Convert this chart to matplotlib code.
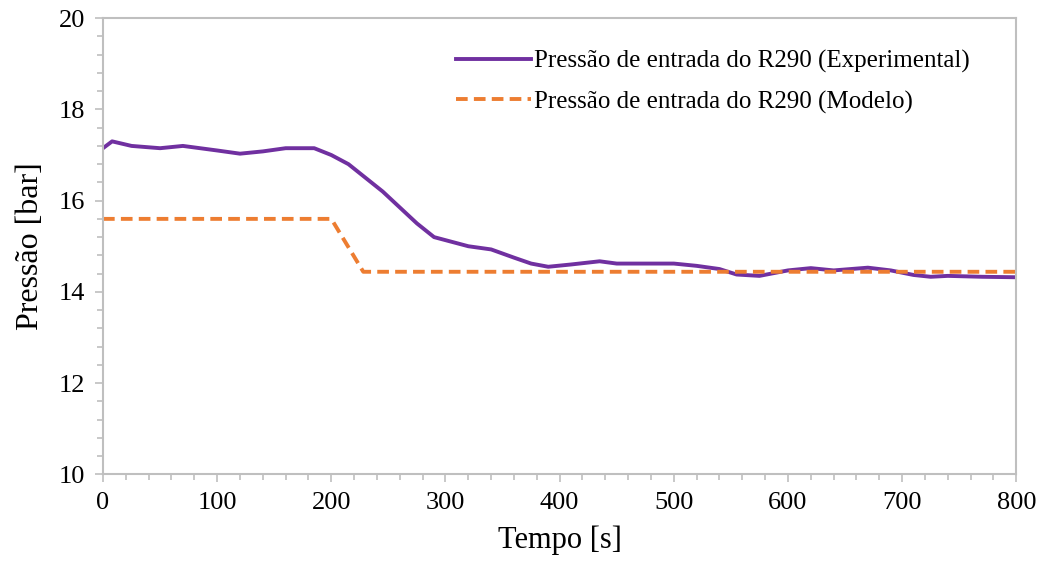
import matplotlib.pyplot as plt
from matplotlib.ticker import MultipleLocator

# dados
t_exp = [0, 8, 25, 50, 70, 100, 120, 140, 160, 185, 200, 215, 230, 245, 260, 275,
         290, 305, 320, 340, 360, 375, 390, 410, 435, 450, 500, 520, 540, 555, 575,
         600, 620, 640, 670, 690, 710, 725, 740, 770, 800]
p_exp = [17.15, 17.3, 17.2, 17.15, 17.2, 17.1, 17.03, 17.08, 17.15, 17.15, 17.0, 16.8,
         16.5, 16.2, 15.85, 15.5, 15.2, 15.1, 15.0, 14.93, 14.75, 14.62, 14.55, 14.6,
         14.67, 14.62, 14.62, 14.57, 14.5, 14.38, 14.35, 14.47, 14.52, 14.47, 14.53,
         14.47, 14.37, 14.33, 14.35, 14.33, 14.32]

t_mod = [0, 200, 228, 800]
p_mod = [15.6, 15.6, 14.44, 14.44]

plt.rcParams['font.family'] = ['Liberation Serif', 'DejaVu Serif']

fig = plt.figure(figsize=(10.51, 5.70), dpi=100)
ax = fig.add_axes([0.098, 0.168, 0.869, 0.8])

ax.plot(t_exp, p_exp, color='#7030A0', lw=2.8,
        label='Pressão de entrada do R290 (Experimental)')
ax.plot(t_mod, p_mod, color='#ED7D31', lw=2.8, ls=(0, (3, 1.6)),
        label='Pressão de entrada do R290 (Modelo)')

ax.set_xlim(0, 800)
ax.set_ylim(10, 20)
ax.xaxis.set_major_locator(MultipleLocator(100))
ax.xaxis.set_minor_locator(MultipleLocator(20))
ax.yaxis.set_major_locator(MultipleLocator(2))
ax.yaxis.set_minor_locator(MultipleLocator(0.4))

for s in ax.spines.values():
    s.set_color('#BFBFBF')
    s.set_linewidth(1.5)
ax.tick_params(which='both', direction='out', color='#BFBFBF', width=1.2,
               labelsize=19, pad=7)
ax.tick_params(which='major', length=6)
ax.tick_params(which='minor', length=4)

ax.set_xlabel('Tempo [s]', fontsize=22, labelpad=8)
ax.set_ylabel('Pressão [bar]', fontsize=23, labelpad=10)

ax.legend(loc='upper right', bbox_to_anchor=(0.974, 0.98), frameon=False,
          fontsize=18, handlelength=3.0, handletextpad=0.15, labelspacing=0.7)

fig.savefig('out.png')
